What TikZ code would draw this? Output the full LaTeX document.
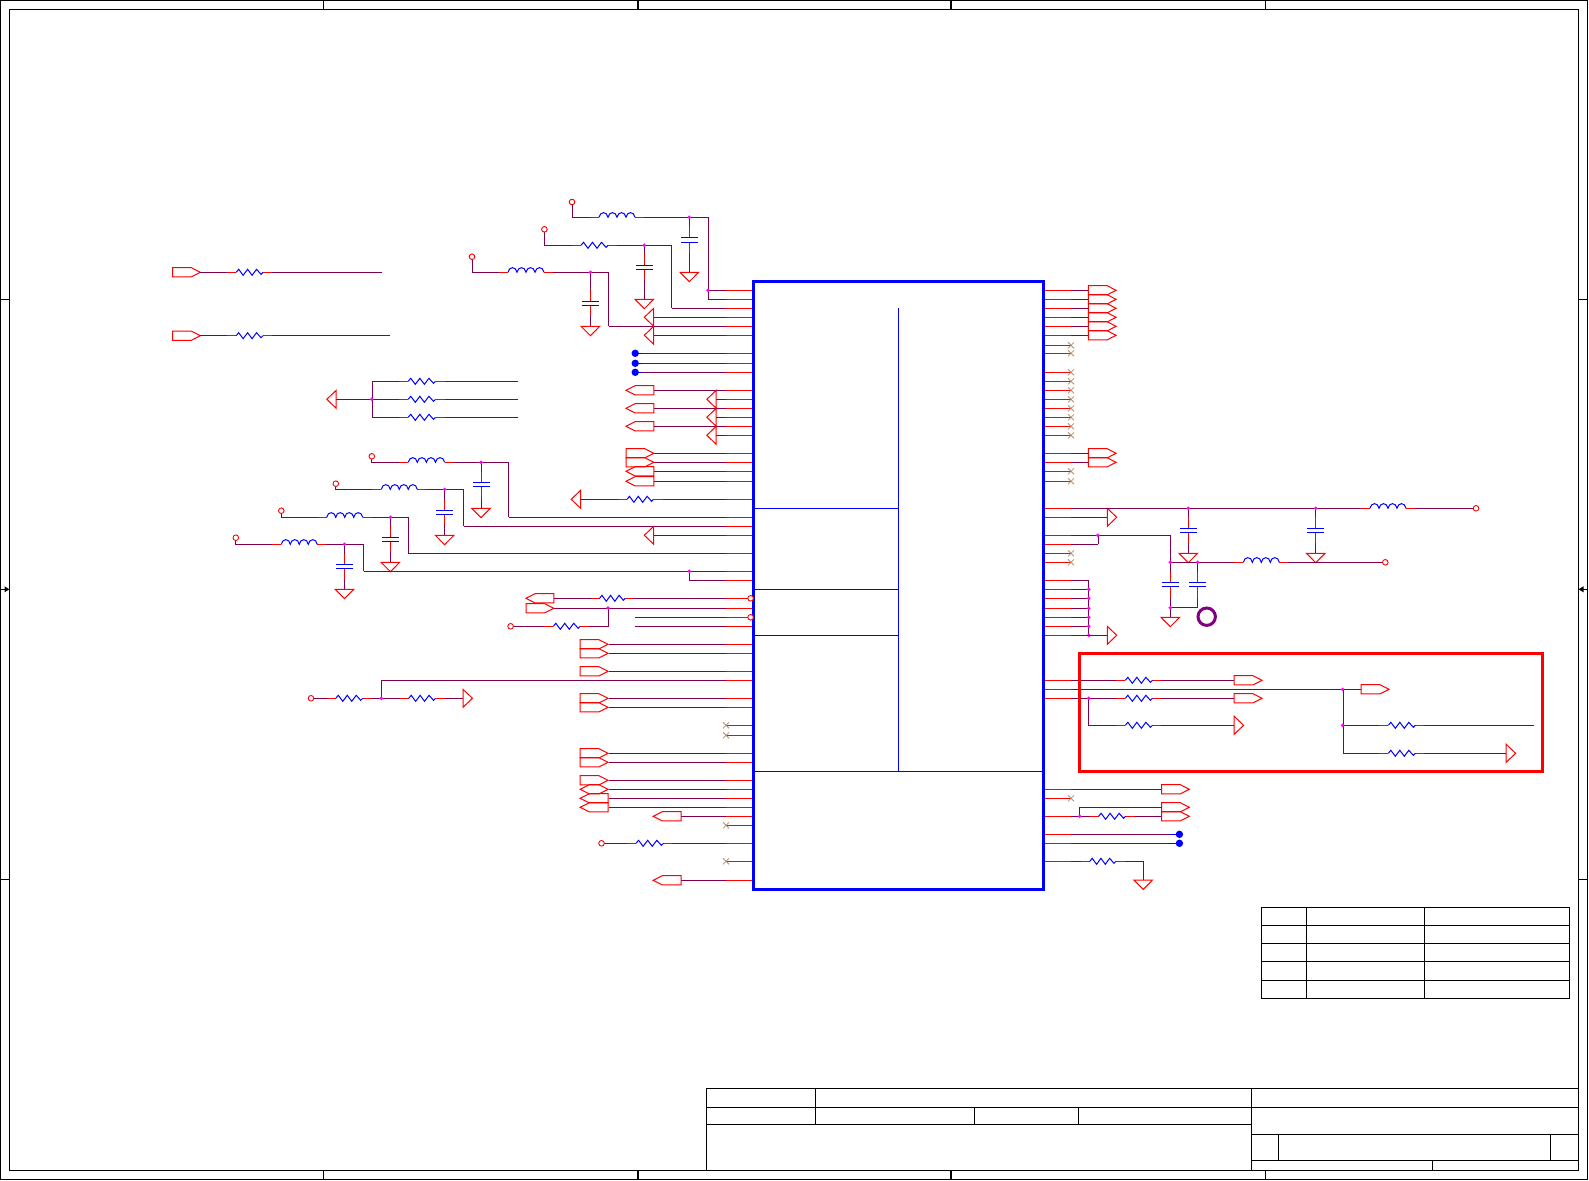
\documentclass[tikz,border=0pt]{standalone}
\definecolor{wirec}{RGB}{128,0,80}
\definecolor{xc}{RGB}{180,145,110}
\definecolor{ringc}{RGB}{128,0,128}
\definecolor{junc}{RGB}{255,0,255}
\tikzset{
  wire/.style={draw=wirec,line width=1pt,line join=miter},
  stub/.style={draw=red,line width=1pt},
  part/.style={draw=blue,line width=1pt,line join=miter},
  sym/.style={draw=red,line width=1pt,line join=miter},
  xm/.style={draw=xc,line width=0.8pt},
  frameline/.style={draw=black,line width=1.2pt},
  icbox/.style={draw=blue,line width=3pt,line join=miter},
  icdiv/.style={draw=blue,line width=1pt},
  zone/.style={draw=red,line width=3pt,line join=miter}
}
% pins
\newcommand\PinL[2]{\draw[wire] (#2,#1)--(752,#1); \draw[stub] (726,#1)--(752,#1);}
\newcommand\PinR[2]{\draw[wire] (1044,#1)--(#2,#1); \draw[stub] (1044,#1)--(1071,#1);}
\newcommand\XpinL[1]{\draw[stub] (726,#1)--(752,#1); \draw[xm,shift={(726,#1)}] (-3,-3)--(3,3) (-3,3)--(3,-3);}
\newcommand\XpinR[1]{\draw[stub] (1044,#1)--(1071,#1); \draw[xm,shift={(1071,#1)}] (-3,-3)--(3,3) (-3,3)--(3,-3);}
% parts
\newcommand\Rz[3]{\draw[white,line width=2pt] (#1,#3)--(#2,#3);
  \draw[stub,shift={(#1,#3)}] (-9,0)--(0,0);
  \draw[stub,shift={(#2,#3)}] (0,0)--(9,0);
  \draw[part,shift={(#1,#3)},xscale={(#2-#1)/27}] (0,0)--(2.5,-3)--(7,3)--(11.5,-3)--(16,3)--(20.5,-3)--(25,2)--(27,0);}
\newcommand\Lz[3]{\draw[white,line width=2pt] (#1,#3)--(#2,#3);
  \draw[stub,shift={(#1,#3)}] (-9,0)--(0,0);
  \draw[stub,shift={(#2,#3)}] (0,0)--(9,0);
  \draw[part,shift={(#1,#3)},xscale={(#2-#1)/36}]
   (0,0) .. controls (1,-6.2) and (8,-6.2) .. (9,0) .. controls (10,-6.2) and (17,-6.2) .. (18,0)
   .. controls (19,-6.2) and (26,-6.2) .. (27,0) .. controls (28,-6.2) and (35,-6.2) .. (36,0);}
\newcommand\Cz[3]{\draw[white,line width=2pt] (#1,#2)--(#1,#3);
  \draw[stub,shift={(#1,#2)}] (0,-11)--(0,0);
  \draw[stub,shift={(#1,#3)}] (0,0)--(0,11);
  \draw[part,shift={(#1,#2)}] (-8.5,0)--(8.5,0);
  \draw[part,shift={(#1,#3)}] (-8.5,0)--(8.5,0);}
\newcommand\Gd[2]{\draw[sym,shift={(#1,#2)}] (-9.3,0)--(9.3,0)--(0,9.4)--cycle;}
\newcommand\TriL[2]{\draw[sym,shift={(#1,#2)}] (0,0)--(9.4,-9)--(9.4,9)--cycle;}
\newcommand\TriR[2]{\draw[sym,shift={(#1,#2)}] (0,-9)--(9.4,0)--(0,9)--cycle;}
\newcommand\LabR[2]{\draw[sym,shift={(#1,#2)}] (0,-4.6)--(18.8,-4.6)--(27.8,0)--(18.8,4.6)--(0,4.6)--cycle;}
\newcommand\LabL[2]{\draw[sym,shift={(#1,#2)}] (0,0)--(9,-4.6)--(27.8,-4.6)--(27.8,4.6)--(9,4.6)--cycle;}
\newcommand\LabB[2]{\draw[sym,shift={(#1,#2)}] (0,0)--(9,-4.6)--(18.8,-4.6)--(27.8,0)--(18.8,4.6)--(9,4.6)--cycle;}
\newcommand\Jn[2]{\fill[junc] (#1,#2) circle (1.9);}
\newcommand\Ring[2]{\draw[red,line width=0.9pt,fill=white] (#1,#2) circle (2.8);}
\newcommand\Bd[2]{\fill[blue] (#1,#2) circle (3.7); \draw[draw=blue,line width=1pt,shift={(#1,#2)}] (0,0)--(7,0);}
\newcommand\Bdr[2]{\fill[blue] (#1,#2) circle (3.7); \draw[draw=blue,line width=1pt,shift={(#1,#2)}] (-9,0)--(0,0);}
\begin{document}
\begin{tikzpicture}[x=1pt,y=-1pt]
\useasboundingbox (0,0) rectangle (1589,1180);
\fill[white] (0,0) rectangle (1589,1180);
% ---- sheet frame
\draw[frameline] (0.6,0.8) rectangle (1587.8,1179.2);
\draw[frameline] (9.4,9.6) rectangle (1578.5,1170.3);
\foreach \x in {323.3,638,951,1265.5} {
  \draw[frameline] (\x,0.8)--(\x,9.6);
  \draw[frameline] (\x,1170.3)--(\x,1179.2);
}
\foreach \y in {299.3,879.3} {
  \draw[frameline] (0.6,\y)--(9.4,\y);
  \draw[frameline] (1578.5,\y)--(1587.8,\y);
}
\draw[frameline] (0.6,589.3)--(5,589.3);
\fill[black] (9.4,589.3)--(4.5,586.3)--(4.5,592.3)--cycle;
\draw[frameline] (1583,589.3)--(1587.8,589.3);
\fill[black] (1578.5,589.3)--(1583.5,586.3)--(1583.5,592.3)--cycle;
% ---- revision table
\draw[frameline] (1261.6,907.3) rectangle (1569.4,998.3);
\foreach \y in {925.3,943.3,961.3,980.3} \draw[frameline] (1261.6,\y)--(1569.4,\y);
\foreach \x in {1306.3,1424.4} \draw[frameline] (\x,907.3)--(\x,998.3);
% ---- title block
\draw[frameline] (706.6,1170.3)--(706.6,1088.3)--(1578.5,1088.3);
\draw[frameline] (706.6,1107.3)--(1578.5,1107.3);
\draw[frameline] (706.6,1124.3)--(1251.3,1124.3);
\draw[frameline] (815.6,1088.3)--(815.6,1124.3);
\draw[frameline] (974.4,1107.3)--(974.4,1124.3);
\draw[frameline] (1078.1,1107.3)--(1078.1,1124.3);
\draw[frameline] (1251.3,1088.3)--(1251.3,1170.3);
\draw[frameline] (1251.3,1134.3)--(1578.5,1134.3);
\draw[frameline] (1251.3,1160.6)--(1578.5,1160.6);
\draw[frameline] (1278.2,1134.3)--(1278.2,1160.6);
\draw[frameline] (1550.5,1134.3)--(1550.5,1160.6);
\draw[frameline] (1432.4,1160.6)--(1432.4,1170.3);
% ---- left side wires
\draw[wire] (572,202)--(572,217.3)--(708.3,217.3)--(708.3,299.3);
\PinL{290.3}{708}\PinL{299.3}{708}
\draw[wire] (689.3,217.3)--(689.3,272.3);
\Lz{599}{635}{217.3}\Cz{689.3}{237.3}{242.3}\Gd{689.3}{272.3}\Jn{689.3}{217.3}\Jn{708}{290.3}\Ring{572}{202}
\draw[wire] (544.4,229.3)--(544.4,245.3)--(671.5,245.3)--(671.5,308.3);
\PinL{308.3}{671.5}
\draw[wire] (644.3,245.3)--(644.3,299.3);
\Rz{581}{608}{245.3}\Cz{644.3}{265.3}{269.3}\Gd{644.3}{299.3}\Jn{644.3}{245.3}\Ring{544.4}{229.3}
\draw[wire] (472,256.7)--(472,272.3)--(608.7,272.3)--(608.7,326.3);
\PinL{326.3}{608.7}
\draw[wire] (590.4,272.3)--(590.4,326.3);
\Lz{508}{544}{272.3}\Cz{590.4}{301.3}{305.3}\Gd{590.4}{326.3}\Jn{590.4}{272.3}\Ring{472}{256.7}
\PinL{317.3}{653.7}\PinL{335.3}{653.7}\TriL{644.3}{317.3}\TriL{644.3}{335.3}
\foreach \y in {353.3,363.3,372.3} {\PinL{\y}{635.2}\Bd{635.2}{\y}}
\foreach \y in {390.3,408.3,426.3} {\PinL{\y}{653.7}\LabL{626}{\y}}
\foreach \y in {399.3,417.3,435.3} {\PinL{\y}{716.2}\TriL{706.8}{\y}}
\foreach \y in {453.3,462.3} {\PinL{\y}{653.7}\LabR{626}{\y}}
\foreach \y in {471.3,481.3} {\PinL{\y}{653.7}\LabL{626}{\y}}
\PinL{499.3}{580.6}\Rz{627}{653.5}{499.3}\TriL{571.2}{499.3}
\draw[wire] (371.8,456.3)--(371.8,462.3)--(508.6,462.3)--(508.6,517.3);
\PinL{517.3}{508.6}
\draw[wire] (481,462.3)--(481,508.3);
\Lz{408.2}{444.6}{462.3}\Cz{481}{482.7}{486.7}\Gd{481}{508.3}\Jn{481}{462.3}\Ring{371.8}{456.3}
\draw[wire] (335.8,483.7)--(335.8,489.3)--(463.5,489.3)--(463.5,526.3);
\PinL{526.3}{463.5}
\draw[wire] (444.6,489.3)--(444.6,535.3);
\Lz{381.3}{417.3}{489.3}\Cz{444.6}{510.3}{514.3}\Gd{444.6}{535.3}\Jn{444.6}{489.3}\Ring{335.8}{483.7}
\PinL{535.3}{653.7}\TriL{644.3}{535.3}
\draw[wire] (281.3,510.7)--(281.3,517.3)--(408.2,517.3)--(408.2,553.3);
\PinL{553.3}{408.2}
\draw[wire] (390.4,517.3)--(390.4,562.3);
\Lz{326.7}{362.7}{517.3}\Cz{390.4}{537.3}{541.3}\Gd{390.4}{562.3}\Jn{390.4}{517.3}\Ring{281.3}{510.7}
\draw[wire] (235.8,537.7)--(235.8,544.3)--(363.5,544.3)--(363.5,571.3);
\PinL{571.3}{363.5}
\draw[wire] (344.5,544.3)--(344.5,589.3);
\Lz{281.3}{317.3}{544.3}\Cz{344.5}{564.7}{568.7}\Gd{344.5}{589.3}\Jn{344.5}{544.3}\Ring{235.8}{537.7}
\draw[wire] (689.3,571.3)--(689.3,580.3);
\PinL{580.3}{689.3}\Jn{689.3}{571.3}
% ---- lower left
\PinL{598.3}{553.7}\Rz{599.6}{625.3}{598.3}\LabL{526}{598.3}
\PinL{608.3}{553.7}\LabR{526}{608.3}
\draw[wire] (608.3,608.3)--(608.3,626.3)--(510.6,626.3);
\Rz{553.3}{580.2}{626.3}\Jn{607.9}{608}\Ring{510.6}{626.3}
\PinL{617.3}{635.2}\PinL{626.3}{635.2}
\foreach \y in {644.3,653.3,671.3,698.3,707.3,753.3,762.3,780.3} {\PinL{\y}{608.7}\LabR{580.2}{\y}}
\PinL{789.3}{608.7}\LabB{580.2}{789.3}
\foreach \y in {798.3,807.3} {\PinL{\y}{608.7}\LabL{580.2}{\y}}
\draw[wire] (381.3,698.3)--(381.3,680.3);
\PinL{680.3}{381.3}
\draw[wire] (311,698.3)--(463,698.3);
\Rz{335.8}{362.7}{698.3}\Rz{408.7}{435.5}{698.3}\Jn{381.3}{698.3}\Ring{311}{698.3}\TriR{463}{698.3}
\XpinL{725.3}\XpinL{735.3}\XpinL{825.3}\XpinL{861.3}
\PinL{816.3}{681}\LabL{653.2}{816.3}
\PinL{843.3}{601.5}\Rz{636}{663.4}{843.3}\Ring{601.5}{843.3}
\PinL{880.3}{681}\LabL{653.2}{880.3}
% ---- far left groups
\LabR{172.5}{272.3}\draw[wire] (200.3,272.3)--(381.7,272.3);\Rz{236.2}{263}{272.3}
\LabR{172.5}{335.7}\draw[wire] (200.3,335.7)--(390.4,335.7);\Rz{236.2}{263}{335.7}
\draw[wire] (517.7,381.3)--(372.4,381.3)--(372.4,417.3)--(517.7,417.3);
\draw[wire] (336.2,399.3)--(517.7,399.3);
\foreach \y in {381.3,399.3,417.3} {\Rz{408.2}{435.5}{\y}}
\TriL{326.8}{399.3}\Jn{371.8}{399.3}
% ---- right side pins
\foreach \y in {290.3,299.3,308.3,317.3,326.3,335.3,453.3,462.3} {\PinR{\y}{1088.3}\LabR{1088.3}{\y}}
\foreach \y in {345.3,353.3,372.3,381.3,390.3,399.3,408.3,417.3,426.3,435.3,471.3,481.3,553.3,562.3,798.3} {\XpinR{\y}}
\PinR{517.3}{1107.3}\TriR{1107.3}{517.3}
\PinR{508.3}{1476}
\draw[wire] (1188.3,508.3)--(1188.3,553.3);
\draw[wire] (1315.7,508.3)--(1315.7,553.3);
\Lz{1370}{1406}{508.3}\Cz{1188.3}{528.3}{532.3}\Cz{1315.7}{528.3}{532.3}
\Gd{1188.3}{553.3}\Gd{1315.7}{553.3}\Jn{1188.3}{508.3}\Jn{1315.7}{508.3}\Ring{1476}{508.3}
\PinR{535.3}{1170.3}\PinR{544.3}{1098.3}
\draw[wire] (1098.3,544.3)--(1098.3,535.3);
\draw[wire] (1170.3,535.3)--(1170.3,617.3);
\draw[wire] (1170.3,562.3)--(1385.3,562.3);
\draw[wire] (1170.3,607.7)--(1197.7,607.7)--(1197.7,562.3);
\Lz{1243.3}{1279.3}{562.3}\Cz{1170.3}{582.7}{586.7}\Cz{1197.7}{582.7}{586.7}
\Gd{1170.3}{617.3}\Jn{1097.7}{535.3}\Jn{1170.3}{562.3}\Jn{1197.7}{562.3}\Jn{1170.3}{607.7}\Ring{1385.3}{562.3}
\draw[draw=ringc,line width=3pt] (1206.7,616.7) circle (8.7);
\foreach \y in {580.3,589.3,598.3,608.3,617.3,626.3,635.3} {\PinR{\y}{1088.3}}
\draw[wire] (1088.3,580.3)--(1088.3,635.3);
\foreach \y in {589.3,598.3,608.3,617.3,626.3,635.3} {\Jn{1088.8}{\y}}
\PinR{635.3}{1107.3}\TriR{1107.3}{635.3}
% ---- red zone
\PinR{680.3}{1234.2}\Rz{1125.3}{1152.4}{680.3}\LabR{1234.2}{680.3}
\PinR{689.3}{1361.2}\LabR{1361.2}{689.3}
\PinR{698.3}{1234.2}\Rz{1125.3}{1152.4}{698.3}\LabR{1234.2}{698.3}
\draw[wire] (1088.8,698.3)--(1088.8,725.3)--(1234.2,725.3);
\Rz{1125.3}{1152.4}{725.3}\TriR{1234.2}{725.3}\Jn{1088.8}{698.3}
\draw[wire] (1343.3,689.3)--(1343.3,753.3)--(1506.2,753.3);
\draw[wire] (1343.3,725.3)--(1533.6,725.3);
\Rz{1388.3}{1415.3}{725.3}\Rz{1388.3}{1415.3}{753.3}\TriR{1506.2}{753.3}
\Jn{1342.6}{689.3}\Jn{1342.6}{725.3}
\draw[zone] (1079.7,653.7) rectangle (1542.6,771);
% ---- lower right
\PinR{789.3}{1161.5}\LabR{1161.5}{789.3}
\PinR{816.3}{1161.5}\LabR{1161.5}{807.3}\LabR{1161.5}{816.3}
\draw[wire] (1079.7,816.3)--(1079.7,807.3)--(1161.5,807.3);
\Rz{1098.6}{1125.6}{816.3}\Jn{1079.7}{816.3}
\PinR{834.3}{1179.4}\Bdr{1179.4}{834.3}
\PinR{843.3}{1179.4}\Bdr{1179.4}{843.3}
\PinR{861.3}{1143.2}
\draw[wire] (1143.2,861.3)--(1143.2,880);
\Rz{1089.8}{1115.9}{861.3}\Gd{1143.2}{880}
% ---- IC body
\draw[icbox] (753.5,281.3) rectangle (1043.3,889.3);
\draw[icdiv] (898.3,308)--(898.3,771.5);
\foreach \y in {508.3,589.3,635.5} \draw[icdiv] (753.5,\y)--(898.3,\y);
\draw[icdiv] (753.5,771.5)--(1043.3,771.5);
\Ring{750.6}{598.3}\Ring{750.6}{617.3}
\end{tikzpicture}
\end{document}
